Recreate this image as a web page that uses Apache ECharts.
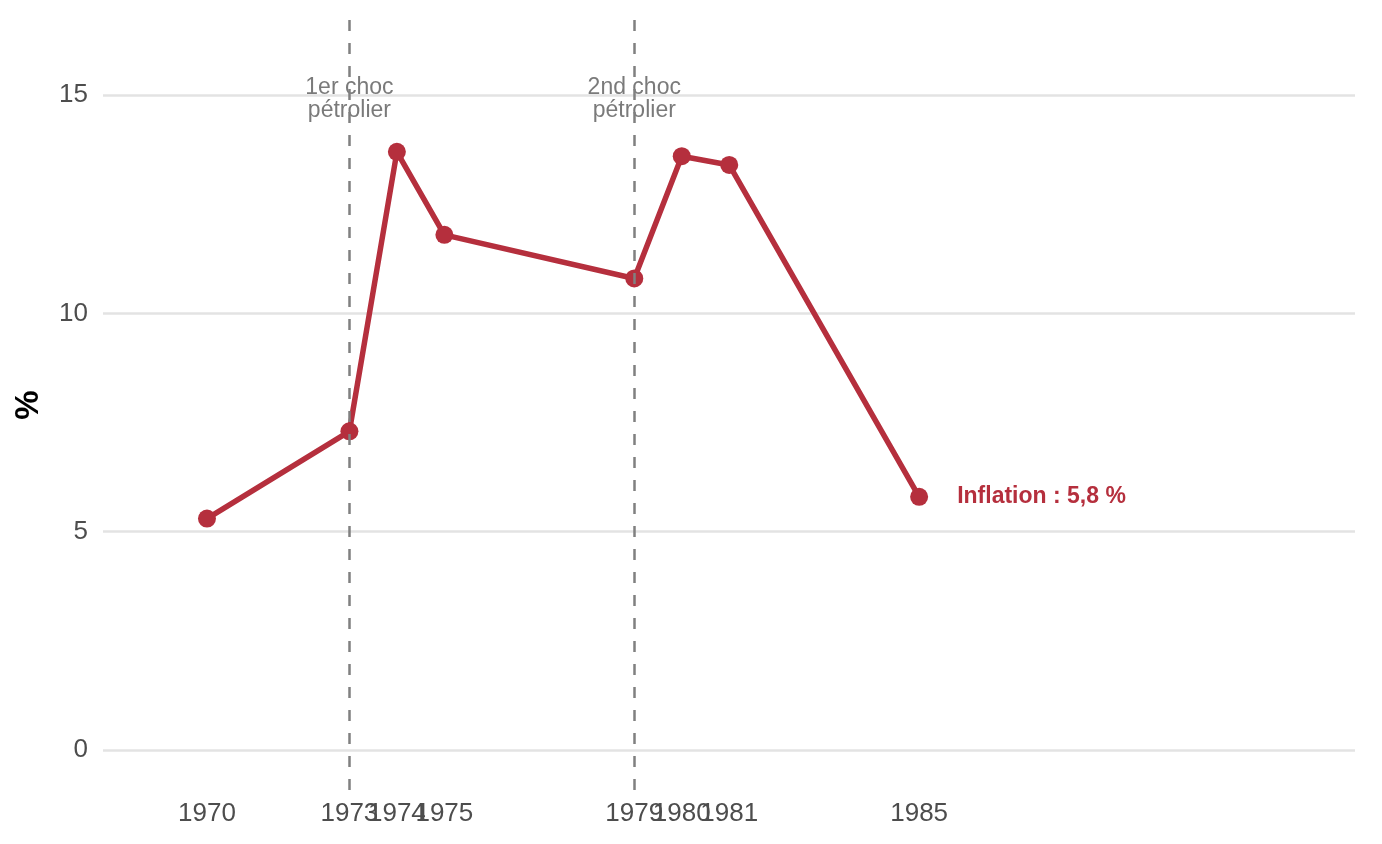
<!DOCTYPE html>
<html>
<head>
<meta charset="utf-8">
<script src="https://cdn.jsdelivr.net/npm/echarts@6/dist/echarts.min.js"></script>
<style>
html,body{margin:0;padding:0;background:#fff;}
#chart{width:1382px;height:844px;}
</style>
</head>
<body>
<div id="chart"></div>
<script>
var years = [1970, 1973, 1974, 1975, 1979, 1980, 1981, 1985];
var inflation = [5.3, 7.3, 13.7, 11.8, 10.8, 13.6, 13.4, 5.8];
var shockYears = [1973, 1979];
var shockLabels = ['1er choc\npétrolier', '2nd choc\npétrolier'];
var shockLabelY = 15;
var yTicks = [0, 5, 10, 15];
var lastLabel = 'Inflation : 5,8 %';

var lineData = years.map(function (y, i) {
  var d = { value: [y, inflation[i]] };
  if (i === years.length - 1) {
    d.label = {
      show: true, position: 'right', distance: 29,
      formatter: lastLabel,
      color: '#b52f3d', fontWeight: 'bold', fontSize: 23,
      fontFamily: 'Liberation Sans'
    };
  }
  return d;
});

var annData = shockYears.map(function (y, i) {
  return { value: [y, shockLabelY], label: { formatter: shockLabels[i] } };
});

var chart = echarts.init(document.getElementById('chart'), null, { renderer: 'canvas' });
chart.setOption({
  animation: false,
  backgroundColor: '#ffffff',
  textStyle: { fontFamily: 'Liberation Sans' },
  grid: { left: 103, right: 27, top: 20, bottom: 54, containLabel: false },
  xAxis: {
    type: 'value', min: 1967.81, max: 1994.18,
    axisLine: { show: false, onZero: false },
    axisTick: { show: false },
    splitLine: { show: false },
    axisLabel: {
      customValues: years, margin: 11,
      color: '#4d4d4d', fontSize: 26, fontFamily: 'Liberation Sans',
      formatter: function (v) { return String(v); },
      hideOverlap: false
    }
  },
  yAxis: {
    type: 'value', min: -0.916, max: 16.72,
    name: '%', nameLocation: 'middle', nameGap: 58, nameRotate: 90,
    nameTextStyle: { color: '#000', fontWeight: 'bold', fontSize: 33, fontFamily: 'Liberation Sans' },
    axisLine: { show: false },
    axisTick: { show: false, customValues: yTicks },
    splitLine: { show: true, lineStyle: { color: '#e3e3e3', width: 2.5 } },
    axisLabel: {
      customValues: yTicks, margin: 15,
      color: '#4d4d4d', fontSize: 26, fontFamily: 'Liberation Sans',
      padding: [3, 0, 0, 0]
    }
  },
  series: [
    {
      name: 'chocs', type: 'scatter', symbolSize: 0, silent: true, z: 1,
      data: annData,
      label: {
        show: true, position: 'inside', color: '#595959', fontSize: 23,
        lineHeight: 23, align: 'center', offset: [0, 4], fontFamily: 'Liberation Sans'
      },
      markLine: {
        silent: true, symbol: ['none', 'none'], label: { show: false },
        lineStyle: { color: '#808080', type: [11, 12], width: 2.5 },
        data: shockYears.map(function (y) { return { xAxis: y }; })
      }
    },
    {
      name: 'Inflation', type: 'line', z: 3,
      data: lineData,
      symbol: 'circle', symbolSize: 18,
      lineStyle: { color: '#b52f3d', width: 5.5 },
      itemStyle: { color: '#b52f3d' },
      label: { show: false }
    }
  ]
});
</script>
</body>
</html>
